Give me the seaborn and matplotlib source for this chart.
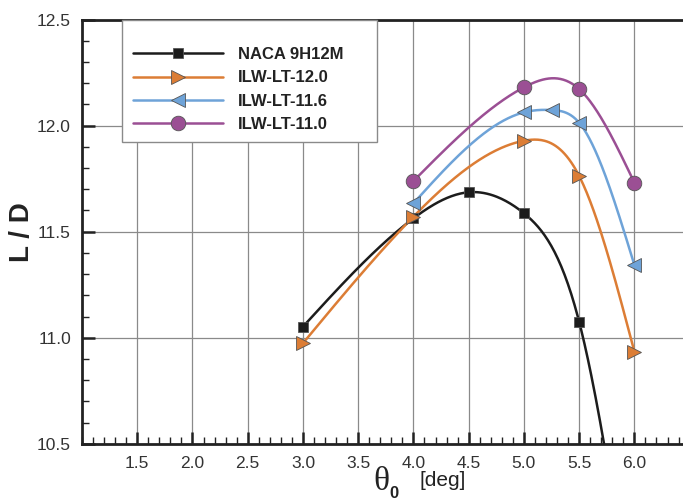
import numpy as np
import pandas as pd
import matplotlib
matplotlib.use("Agg")
import matplotlib.pyplot as plt
from matplotlib.lines import Line2D
from matplotlib.patches import Rectangle
from matplotlib.ticker import MultipleLocator
import seaborn as sns

sns.set_theme(style="white")
plt.rcParams['font.family'] = ['Liberation Sans', 'DejaVu Sans']

# ---------------- data ----------------
series_names = ["NACA 9H12M", "ILW-LT-12.0", "ILW-LT-11.6", "ILW-LT-11.0"]

naca_x = [3.0, 4.0, 4.5, 5.0, 5.5, 6.0]
naca_y = [11.052, 11.563, 11.686, 11.587, 11.075, 9.60]

lt120_x = [3.0, 4.0, 5.0, 5.5, 6.0]
lt120_y = [10.974, 11.571, 11.929, 11.763, 10.934]

lt116_x = [4.0, 5.0, 5.25, 5.5, 6.0]
lt116_y = [11.634, 12.063, 12.074, 12.014, 11.343]

lt110_x = [4.0, 5.0, 5.5, 6.0]
lt110_y = [11.739, 12.181, 12.173, 11.731]

colors = ["#1c1c1c", "#dc7d35", "#6ea3d8", "#9b4f94"]
markers = ["s", ">", "<", "o"]
msizes = [7.5, 9.5, 9.5, 10.5]

xticks = [1.5, 2.0, 2.5, 3.0, 3.5, 4.0, 4.5, 5.0, 5.5, 6.0]
yticks = [10.5, 11.0, 11.5, 12.0, 12.5]


def natural_spline(x, y, n=300):
    x = np.asarray(x, float)
    y = np.asarray(y, float)
    m = len(x)
    h = np.diff(x)
    A = np.zeros((m, m))
    b = np.zeros(m)
    A[0, 0] = 1.0
    A[-1, -1] = 1.0
    for i in range(1, m - 1):
        A[i, i - 1] = h[i - 1]
        A[i, i] = 2 * (h[i - 1] + h[i])
        A[i, i + 1] = h[i]
        b[i] = 6 * ((y[i + 1] - y[i]) / h[i] - (y[i] - y[i - 1]) / h[i - 1])
    M = np.linalg.solve(A, b)
    xs = np.linspace(x[0], x[-1], n)
    idx = np.clip(np.searchsorted(x, xs) - 1, 0, m - 2)
    x0, x1 = x[idx], x[idx + 1]
    hh = x1 - x0
    t0 = x1 - xs
    t1 = xs - x0
    ys = (M[idx] * t0 ** 3 / (6 * hh) + M[idx + 1] * t1 ** 3 / (6 * hh)
          + (y[idx] / hh - M[idx] * hh / 6) * t0
          + (y[idx + 1] / hh - M[idx + 1] * hh / 6) * t1)
    return xs, ys


all_x = [naca_x, lt120_x, lt116_x, lt110_x]
all_y = [naca_y, lt120_y, lt116_y, lt110_y]

fig = plt.figure(figsize=(6.83, 5.0), dpi=100)
ax = fig.add_axes([82 / 683, (500 - 443.7) / 500, 1 - 82 / 683, (443.7 - 19.7) / 500])

for i, name in enumerate(series_names):
    xs, ys = natural_spline(all_x[i], all_y[i])
    curve = pd.DataFrame({"x": xs, "y": ys})
    sns.lineplot(data=curve, x="x", y="y", color=colors[i], lw=1.8,
                 sort=False, estimator=None, ax=ax, zorder=3)
    pts = pd.DataFrame({"x": all_x[i], "y": all_y[i]})
    ax.plot(pts["x"], pts["y"], linestyle="none", marker=markers[i],
            ms=msizes[i], mfc=colors[i], mec="#555555", mew=0.6, zorder=4)

ax.set_xlim(1.0, 6.44)
ax.set_ylim(10.5, 12.5)
ax.set_xticks(xticks)
ax.set_yticks(yticks)
ax.set_xticklabels([f"{t:.1f}" for t in xticks])
ax.set_yticklabels([f"{t:.1f}" for t in yticks])
ax.xaxis.set_minor_locator(MultipleLocator(0.1))
ax.yaxis.set_minor_locator(MultipleLocator(0.1))
ax.tick_params(which="major", direction="in", length=9, width=1.8,
               color="#222222", labelsize=12.5, labelcolor="#333333")
ax.tick_params(axis="y", which="major", pad=8)
ax.tick_params(axis="x", which="major", pad=9)
ax.tick_params(which="minor", direction="in", length=5, width=1.0, color="#222222")
ax.tick_params(left=True, bottom=True, which="both")
ax.grid(True, which="major", color="#8a8a8a", lw=0.9)
ax.set_axisbelow(True)

for s in ["left", "bottom", "top"]:
    ax.spines[s].set_visible(True)
    ax.spines[s].set_color("#222222")
    ax.spines[s].set_linewidth(2.0)
ax.spines["right"].set_visible(False)

ax.set_xlabel("")
ax.set_ylabel("L / D", fontsize=20, fontweight="bold", color="#222222")
ax.yaxis.set_label_coords((22 - 82) / 601, 0.5)
ax.yaxis.label.set_va("center")

# x label pieces
fig.text(381 / 683, 1 - 482 / 500, "θ", fontsize=24, family="Liberation Serif",
         ha="center", va="center", color="#222222")
fig.text(394 / 683, 1 - 493 / 500, "0", fontsize=12, fontweight="bold",
         ha="center", va="center", color="#222222")
fig.text(443 / 683, 1 - 481 / 500, "[deg]", fontsize=15,
         ha="center", va="center", color="#222222")

# legend box
ax.add_patch(Rectangle((40 / 601, 1 - 122 / 424), 255 / 601, 122 / 424,
                       transform=ax.transAxes, facecolor="white",
                       edgecolor="#8a8a8a", lw=1.0, zorder=5, clip_on=False))
handles = [Line2D([0], [0], color=colors[i], lw=1.8, marker=markers[i],
                  ms=msizes[i], mfc=colors[i], mec="#555555", mew=0.6)
           for i in range(4)]
leg = ax.legend(handles, series_names, loc="upper left",
                bbox_to_anchor=(48 / 601, 1 - 24 / 424), frameon=False,
                prop={"weight": "bold", "size": 12}, handlelength=5.4,
                handletextpad=0.9, labelspacing=0.5, borderaxespad=0,
                borderpad=0.2, numpoints=1)
leg.set_zorder(6)
for t in leg.get_texts():
    t.set_color("#222222")

fig.savefig("out.png", dpi=100)
